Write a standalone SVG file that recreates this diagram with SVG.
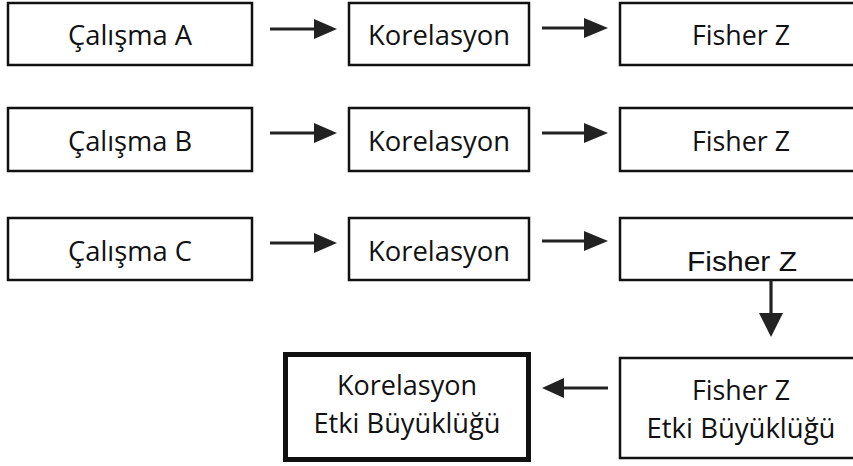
<svg xmlns="http://www.w3.org/2000/svg" width="853" height="466" viewBox="0 0 853 466">
<style>
.box{fill:#fff;stroke:#111;stroke-width:2.5}
.thick{fill:#fff;stroke:#111;stroke-width:5}
.t{font-family:"Open Sans","Noto Sans",sans-serif;font-size:28px;fill:#111;text-anchor:middle}
.ta{font-family:"Liberation Sans",Arial,sans-serif;font-size:28px;fill:#111;text-anchor:middle}
.c{stroke:#222;stroke-width:3.2;fill:none}
.h{fill:#222;stroke:none}
</style>
<rect width="853" height="466" fill="#fff"/>
<g id="calismaA"><rect class="box" x="8" y="3" width="244" height="62"/><text class="t" x="130" y="45" textLength="124" lengthAdjust="spacingAndGlyphs">Çalışma A</text></g>
<g id="korA"><rect class="box" x="349" y="3" width="180" height="62"/><text class="t" x="439" y="45" textLength="142" lengthAdjust="spacingAndGlyphs">Korelasyon</text></g>
<g id="fisherA"><rect class="box" x="620" y="3" width="244" height="62"/><text class="t" x="741" y="45" textLength="98" lengthAdjust="spacingAndGlyphs">Fisher Z</text></g>
<g id="calismaB"><rect class="box" x="8" y="108" width="244" height="63"/><text class="t" x="130" y="151" textLength="124" lengthAdjust="spacingAndGlyphs">Çalışma B</text></g>
<g id="korB"><rect class="box" x="349" y="108" width="180" height="63"/><text class="t" x="439" y="151" textLength="142" lengthAdjust="spacingAndGlyphs">Korelasyon</text></g>
<g id="fisherB"><rect class="box" x="620" y="108" width="244" height="63"/><text class="t" x="741" y="151" textLength="98" lengthAdjust="spacingAndGlyphs">Fisher Z</text></g>
<g id="calismaC"><rect class="box" x="8" y="218" width="244" height="62"/><text class="t" x="130" y="261" textLength="124" lengthAdjust="spacingAndGlyphs">Çalışma C</text></g>
<g id="korC"><rect class="box" x="349" y="218" width="180" height="62"/><text class="t" x="439" y="261" textLength="142" lengthAdjust="spacingAndGlyphs">Korelasyon</text></g>
<g id="fisherC"><rect class="box" x="620" y="218" width="244" height="62"/><text class="ta" x="742" y="271" textLength="110" lengthAdjust="spacingAndGlyphs">Fisher Z</text></g>
<g id="fisherEtki"><rect class="box" x="620" y="358" width="244" height="100"/><text class="t" x="741" y="400" textLength="98" lengthAdjust="spacingAndGlyphs">Fisher Z</text><text class="t" x="741" y="438" textLength="189" lengthAdjust="spacingAndGlyphs">Etki Büyüklüğü</text></g>
<g id="korEtki"><rect class="thick" x="285.5" y="354.5" width="243" height="105"/><text class="t" x="407" y="395" textLength="140" lengthAdjust="spacingAndGlyphs">Korelasyon</text><text class="t" x="407" y="433" textLength="187" lengthAdjust="spacingAndGlyphs">Etki Büyüklüğü</text></g>
<g id="connectors">
<line class="c" x1="270" y1="29" x2="317" y2="29"/><polygon class="h" points="314,19 337,29 314,39"/>
<line class="c" x1="542" y1="28" x2="587" y2="28"/><polygon class="h" points="584,18 608,28 584,38"/>
<line class="c" x1="270" y1="133" x2="317" y2="133"/><polygon class="h" points="314,123 337,133 314,143"/>
<line class="c" x1="542" y1="133" x2="587" y2="133"/><polygon class="h" points="584,123 608,133 584,143"/>
<line class="c" x1="270" y1="243" x2="317" y2="243"/><polygon class="h" points="314,233 337,243 314,253"/>
<line class="c" x1="542" y1="241" x2="587" y2="241"/><polygon class="h" points="584,231 608,241 584,251"/>
<line class="c" x1="771" y1="280" x2="771" y2="315"/><polygon class="h" points="759,313 783,313 771,337"/>
<line class="c" x1="608" y1="388" x2="560" y2="388"/><polygon class="h" points="564,378 564,398 542,388"/>
</g>
</svg>
